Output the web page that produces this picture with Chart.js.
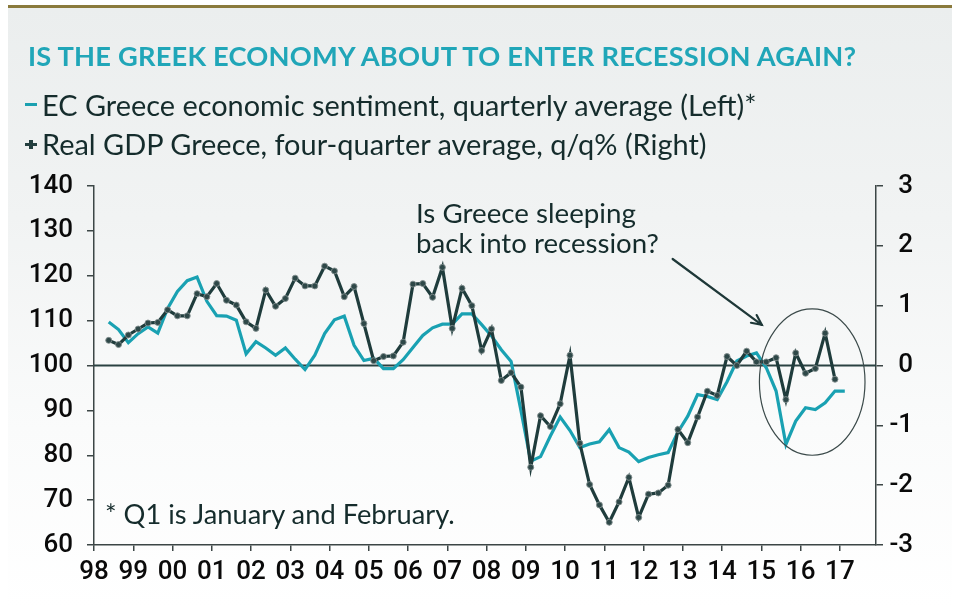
<!DOCTYPE html>
<html>
<head>
<meta charset="utf-8">
<script src="https://cdn.jsdelivr.net/npm/chart.js@4.4.1/dist/chart.umd.min.js"></script>
<style>
  html, body { margin:0; padding:0; }
  body { width:960px; height:608px; position:relative; overflow:hidden; background:#ffffff; }
  #bg { position:absolute; left:8px; right:8px; top:5px; bottom:0; border-top:3px solid #8a7a3c;
        background:linear-gradient(to bottom, #ebeeee 0%, #f1f3f3 35%, #fafbfb 70%, #ffffff 100%); }
  #c { position:absolute; left:0; top:0; }
  .txt { position:absolute; white-space:nowrap; line-height:1.2; font-family:Lato, "Open Sans", sans-serif; color:#152c2c; }
  #title { font-weight:700; color:#20a6b8; letter-spacing:0.2px; }
  .leg { position:absolute; }
</style>
</head>
<body>
<div id="bg"></div>
<canvas id="c" width="960" height="608"></canvas>
<div id="title" class="txt">IS THE GREEK ECONOMY ABOUT TO ENTER RECESSION AGAIN?</div>
<div id="leg1" class="txt">EC Greece economic sentiment, quarterly average (Left)*</div>
<div id="leg2" class="txt">Real GDP Greece, four-quarter average, q/q% (Right)</div>
<div id="ann1" class="txt">Is Greece sleeping</div>
<div id="ann2" class="txt">back into recession?</div>
<div id="foot" class="txt">* Q1 is January and February.</div>
<div class="leg" style="left:25px;top:103px;width:12px;height:3px;background:#1aa0b0"></div>
<div class="leg" style="left:25px;top:143px;width:12px;height:3px;background:#243f3f"></div>
<div class="leg" style="left:29px;top:140px;width:4px;height:9px;background:#243f3f"></div>
<script>
// ---- data ----
const quarters = [
 '1998Q2','1998Q3','1998Q4',
 '1999Q1','1999Q2','1999Q3','1999Q4',
 '2000Q1','2000Q2','2000Q3','2000Q4',
 '2001Q1','2001Q2','2001Q3','2001Q4',
 '2002Q1','2002Q2','2002Q3','2002Q4',
 '2003Q1','2003Q2','2003Q3','2003Q4',
 '2004Q1','2004Q2','2004Q3','2004Q4',
 '2005Q1','2005Q2','2005Q3','2005Q4',
 '2006Q1','2006Q2','2006Q3','2006Q4',
 '2007Q1','2007Q2','2007Q3','2007Q4',
 '2008Q1','2008Q2','2008Q3','2008Q4',
 '2009Q1','2009Q2','2009Q3','2009Q4',
 '2010Q1','2010Q2','2010Q3','2010Q4',
 '2011Q1','2011Q2','2011Q3','2011Q4',
 '2012Q1','2012Q2','2012Q3','2012Q4',
 '2013Q1','2013Q2','2013Q3','2013Q4',
 '2014Q1','2014Q2','2014Q3','2014Q4',
 '2015Q1','2015Q2','2015Q3','2015Q4',
 '2016Q1','2016Q2','2016Q3','2016Q4',
 '2017Q1'
];
// EC Greece economic sentiment, quarterly average (left axis)
const sentiment = [
 109.7, 108.0, 105.1,
 107.1, 108.6, 107.2, 112.7,
 116.5, 118.9, 119.7, 114.3,
 111.1, 111.0, 110.1, 102.6,
 105.3, 103.9, 102.3, 103.9,
 101.4, 99.1, 102.3, 107.1,
 110.2, 111.0, 104.5, 101.1,
 101.6, 99.3, 99.3, 101.3,
 104.0, 106.7, 108.4, 109.2,
 109.2, 111.5, 111.5, 109.1,
 106.6, 103.5, 100.9, 90.0,
 78.7, 79.7, 84.3, 88.5,
 85.5, 81.7, 82.5, 83.0,
 85.7, 81.7, 80.7, 78.6,
 79.5, 80.1, 80.6, 85.2,
 88.7, 93.5, 93.1, 92.4,
 96.4, 101.0, 102.1, 102.8,
 99.5, 94.3, 82.4, 87.6,
 90.6, 90.2, 91.7, 94.3,
 94.3
];
// Real GDP Greece, four-quarter average, q/q % (right axis)
const gdp = [
 0.42, 0.35, 0.51,
 0.61, 0.71, 0.72, 0.93,
 0.83, 0.83, 1.20, 1.15,
 1.37, 1.09, 1.01, 0.73,
 0.62, 1.26, 0.99, 1.12,
 1.46, 1.33, 1.33, 1.66,
 1.58, 1.15, 1.32, 0.70,
 0.08, 0.15, 0.16, 0.39,
 1.36, 1.37, 1.14, 1.64,
 0.62, 1.29, 1.00, 0.25,
 0.61, -0.25, -0.12, -0.36,
 -1.70, -0.84, -1.02, -0.64,
 0.17, -1.30, -1.99, -2.33,
 -2.62, -2.28, -1.87, -2.54,
 -2.15, -2.13, -2.00, -1.07,
 -1.29, -0.86, -0.43, -0.50,
 0.15, 0.00, 0.24, 0.06,
 0.06, 0.13, -0.57, 0.21,
 -0.13, -0.05, 0.54, -0.23
];
const xTickYears  = [1998,1999,2000,2001,2002,2003,2004,2005,2006,2007,2008,2009,2010,2011,2012,2013,2014,2015,2016,2017];
const xTickLabels = ['98','99','00','01','02','03','04','05','06','07','08','09','10','11','12','13','14','15','16','17'];
const leftTicks  = [60,70,80,90,100,110,120,130,140];
const rightTicks = [-3,-2,-1,0,1,2,3];
// annotation (data units: x in years, y on right axis)
const ellipseBox = {x0:2014.95, x1:2017.64, y0:0.945, y1:-1.50};
const arrowLine  = {x0:2012.74, y0:1.78, x1:2015.01, y1:0.68};

// ---- helpers ----
function qx(q){ const y = parseInt(q.slice(0,4),10); const n = parseInt(q.slice(5),10); return y + (n-1)/4 + 0.125; }

const TEAL = '#19a1b2';
const DARK = '#1f3c3c';
const AX = '#3c4646';

const decor = {
  id:'decor',
  beforeDatasetsDraw(chart){
    const {ctx, chartArea:a, scales} = chart;
    const y0 = scales.yR.getPixelForValue(0);
    ctx.save();
    ctx.strokeStyle = '#2a4242'; ctx.lineWidth = 2;
    ctx.beginPath(); ctx.moveTo(a.left, y0); ctx.lineTo(a.right, y0); ctx.stroke();
    ctx.restore();
  },
  afterDatasetsDraw(chart){
    const {ctx, scales} = chart;
    const X = scales.x, Y = scales.yR;
    ctx.save();
    const ex0 = X.getPixelForValue(ellipseBox.x0), ex1 = X.getPixelForValue(ellipseBox.x1);
    const ey0 = Y.getPixelForValue(ellipseBox.y0), ey1 = Y.getPixelForValue(ellipseBox.y1);
    ctx.strokeStyle = '#3b4a4a'; ctx.lineWidth = 1.2;
    ctx.beginPath();
    ctx.ellipse((ex0+ex1)/2, (ey0+ey1)/2, Math.abs(ex1-ex0)/2, Math.abs(ey1-ey0)/2, 0, 0, Math.PI*2);
    ctx.stroke();
    const ax0 = X.getPixelForValue(arrowLine.x0), ay0 = Y.getPixelForValue(arrowLine.y0);
    const ax1 = X.getPixelForValue(arrowLine.x1), ay1 = Y.getPixelForValue(arrowLine.y1);
    ctx.strokeStyle = '#1e3838'; ctx.lineWidth = 2.2; ctx.lineCap = 'round';
    ctx.beginPath(); ctx.moveTo(ax0, ay0); ctx.lineTo(ax1, ay1); ctx.stroke();
    const ang = Math.atan2(ay1-ay0, ax1-ax0), L = 11;
    ctx.beginPath();
    ctx.moveTo(ax1 - L*Math.cos(ang-0.45), ay1 - L*Math.sin(ang-0.45));
    ctx.lineTo(ax1, ay1);
    ctx.lineTo(ax1 - L*Math.cos(ang+0.45), ay1 - L*Math.sin(ang+0.45));
    ctx.stroke();
    ctx.restore();
  }
};

const tickFont = {family:'Roboto, "Liberation Sans", Arial, sans-serif', size:26, weight:'500'};

new Chart(document.getElementById('c').getContext('2d'), {
  type:'line',
  data:{ datasets:[
    { label:'EC Greece economic sentiment, quarterly average (Left)*',
      data: quarters.map((q,i)=>({x:qx(q), y:sentiment[i]})),
      yAxisID:'yL', borderColor:TEAL, borderWidth:3.2, pointRadius:0, tension:0, order:2, fill:false },
    { label:'Real GDP Greece, four-quarter average, q/q% (Right)',
      data: gdp.map((v,i)=>({x:qx(quarters[i]), y:v})),
      yAxisID:'yR', borderColor:DARK, borderWidth:3.2, tension:0, order:1, fill:false,
      pointRadius:3, pointStyle:'circle', pointBackgroundColor:'#2e4848',
      pointBorderColor:'rgba(130,142,142,0.9)', pointBorderWidth:1 }
  ]},
  options:{
    responsive:false, animation:false, devicePixelRatio:1,
    layout:{ padding:{top:186, right:47, bottom:0, left:0} },
    plugins:{ legend:{display:false}, title:{display:false}, tooltip:{enabled:false} },
    scales:{
      x:{ type:'linear', min:1998, max:2017.92,
          afterBuildTicks:(s)=>{ s.ticks = xTickYears.map(v=>({value:v})); },
          afterFit:(s)=>{ s.height = 63; },
          ticks:{ callback:(v)=>{ const k = xTickYears.indexOf(v); return k>=0 ? xTickLabels[k] : ''; },
                  font:tickFont, color:'#0a0a0a', padding:6, maxRotation:0, autoSkip:false },
          grid:{ drawOnChartArea:false, drawTicks:true, tickLength:6, color:AX, lineWidth:1.5 },
          border:{ display:true, color:AX, width:1.5 } },
      yL:{ position:'left', min:60, max:140,
           afterBuildTicks:(s)=>{ s.ticks = leftTicks.map(v=>({value:v})); },
           afterFit:(s)=>{ s.width = 94; },
           ticks:{ font:tickFont, color:'#0a0a0a', padding:14 },
           grid:{ drawOnChartArea:false, drawTicks:true, tickLength:7, color:AX, lineWidth:1.5 },
           border:{ display:true, color:AX, width:1.5 } },
      yR:{ position:'right', min:-3, max:3,
           afterBuildTicks:(s)=>{ s.ticks = rightTicks.map(v=>({value:v})); },
           afterFit:(s)=>{ s.width = 37; },
           ticks:{ font:tickFont, color:'#0a0a0a', crossAlign:'far', padding:10 },
           grid:{ drawOnChartArea:false, drawTicks:true, tickLength:7, color:AX, lineWidth:1.5 },
           border:{ display:true, color:AX, width:1.5 } }
    }
  },
  plugins:[decor]
});

// ---- text placement: fit widths and set baselines ----
function place(id, x, baseline, targetW, startSize){
  const el = document.getElementById(id);
  el.style.fontSize = startSize + 'px';
  el.style.left = x + 'px'; el.style.top = '0px';
  let w = el.getBoundingClientRect().width;
  el.style.fontSize = (startSize * targetW / w) + 'px';
  const m = document.createElement('span');
  m.style.display = 'inline-block'; m.style.width = '0'; m.style.height = '0'; m.style.verticalAlign = 'baseline';
  el.appendChild(m);
  const off = m.getBoundingClientRect().top - el.getBoundingClientRect().top;
  el.removeChild(m);
  el.style.top = (baseline - off) + 'px';
}
function layoutText(){
  place('title', 28, 66, 830, 24);
  place('leg1', 42, 116, 715, 24);
  place('leg2', 42, 155, 665, 24);
  place('ann1', 416, 223, 220, 24);
  place('ann2', 416, 253, 243, 24);
  place('foot', 105, 524, 350, 24);
}
if (document.fonts && document.fonts.ready) { document.fonts.ready.then(layoutText); }
layoutText();
</script>
</body>
</html>
